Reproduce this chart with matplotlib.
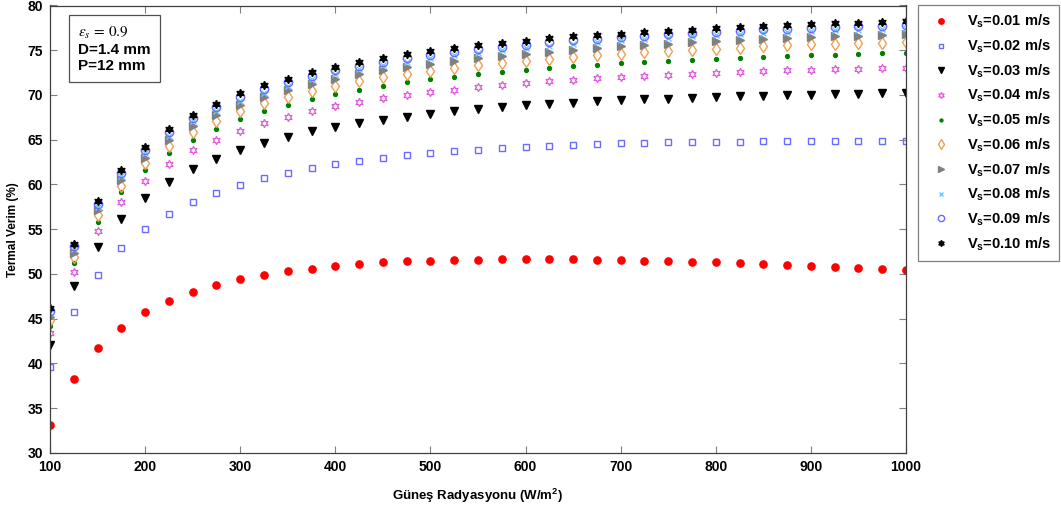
import matplotlib
matplotlib.use("Agg")
import matplotlib.pyplot as plt

plt.rcParams['font.family'] = ['Liberation Sans', 'DejaVu Sans']
plt.rcParams['mathtext.fontset'] = 'custom'
plt.rcParams['mathtext.rm'] = 'Liberation Sans:bold'
plt.rcParams['mathtext.bf'] = 'Liberation Sans:bold'
plt.rcParams['mathtext.it'] = 'Liberation Sans:bold'

# solar radiation (W/m2)
radiation = list(range(100, 1001, 25))

# thermal efficiency (%) for each air velocity
v01 = [33.1, 38.3, 41.7, 44.0, 45.7, 47.0, 48.0, 48.8, 49.4, 49.9, 50.3, 50.6, 50.9, 51.1, 51.3, 51.5, 51.5, 51.55, 51.6,
       51.65, 51.65, 51.65, 51.65, 51.6, 51.55, 51.5, 51.45, 51.35, 51.3, 51.2, 51.1, 51.0, 50.9, 50.8, 50.7, 50.6, 50.5]
v02 = [39.65, 45.8, 49.9, 52.85, 55.0, 56.7, 58.0, 59.05, 59.94, 60.68, 61.24, 61.8, 62.25, 62.58, 62.96, 63.25, 63.48,
       63.7, 63.9, 64.04, 64.2, 64.3, 64.45, 64.53, 64.6, 64.63, 64.7, 64.72, 64.75, 64.8, 64.85, 64.86, 64.86, 64.86,
       64.86, 64.85, 64.84]
v03 = [42.08, 48.68, 53.0, 56.14, 58.49, 60.28, 61.73, 62.9, 63.9, 64.67, 65.35, 65.97, 66.45, 66.84, 67.25, 67.58,
       67.88, 68.18, 68.4, 68.62, 68.85, 69.0, 69.15, 69.3, 69.45, 69.52, 69.6, 69.7, 69.8, 69.86, 69.93, 70.0, 70.04,
       70.1, 70.15, 70.2, 70.23]
v04 = [43.45, 50.24, 54.75, 58.0, 60.42, 62.33, 63.82, 64.98, 66.01, 66.84, 67.58, 68.18, 68.74, 69.22, 69.63, 70.0,
       70.3, 70.6, 70.9, 71.13, 71.31, 71.54, 71.69, 71.87, 72.02, 72.17, 72.28, 72.39, 72.47, 72.58, 72.65, 72.77,
       72.84, 72.92, 72.95, 73.03, 73.07]
v05 = [44.24, 51.22, 55.8, 59.13, 61.58, 63.52, 65.0, 66.24, 67.28, 68.18, 68.93, 69.56, 70.15, 70.6, 71.0, 71.43,
       71.77, 72.06, 72.36, 72.58, 72.8, 73.03, 73.21, 73.4, 73.57, 73.7, 73.83, 73.96, 74.07, 74.18, 74.3, 74.37,
       74.44, 74.52, 74.6, 74.66, 74.74]
v06 = [44.88, 51.9, 56.54, 59.86, 62.4, 64.34, 65.9, 67.13, 68.18, 69.07, 69.82, 70.45, 71.05, 71.54, 71.98, 72.39,
       72.73, 73.03, 73.36, 73.58, 73.85, 74.07, 74.26, 74.44, 74.63, 74.78, 74.93, 75.06, 75.18, 75.3, 75.45, 75.58,
       75.66, 75.75, 75.8, 75.84, 75.9]
v07 = [45.25, 52.4, 57.1, 60.5, 63.0, 64.93, 66.5, 67.77, 68.85, 69.74, 70.53, 71.2, 71.8, 72.32, 72.77, 73.14, 73.47,
       73.81, 74.11, 74.37, 74.59, 74.85, 75.04, 75.22, 75.43, 75.6, 75.75, 75.88, 76.0, 76.1, 76.27, 76.35, 76.46,
       76.57, 76.64, 76.72, 76.8]
v08 = [45.6, 52.8, 57.5, 60.95, 63.5, 65.45, 67.05, 68.25, 69.35, 70.25, 71.0, 71.75, 72.35, 72.9, 73.35, 73.72, 74.08,
       74.42, 74.72, 75.02, 75.25, 75.5, 75.72, 75.92, 76.1, 76.26, 76.42, 76.56, 76.68, 76.8, 76.93, 77.04, 77.14,
       77.22, 77.3, 77.37, 77.44]
v09 = [45.9, 53.1, 57.85, 61.3, 63.85, 65.83, 67.42, 68.63, 69.74, 70.66, 71.4, 72.13, 72.75, 73.29, 73.74, 74.11,
       74.48, 74.81, 75.11, 75.41, 75.63, 75.9, 76.1, 76.3, 76.5, 76.64, 76.8, 76.95, 77.06, 77.2, 77.32, 77.43, 77.54,
       77.6, 77.69, 77.76, 77.84]
v10 = [46.2, 53.4, 58.2, 61.63, 64.2, 66.2, 67.77, 69.0, 70.2, 71.09, 71.84, 72.55, 73.15, 73.7, 74.14, 74.56, 74.89,
       75.22, 75.56, 75.82, 76.08, 76.35, 76.55, 76.72, 76.87, 77.0, 77.17, 77.3, 77.45, 77.6, 77.76, 77.84, 77.9,
       77.99, 78.06, 78.13, 78.25]

velocities = ['0.01', '0.02', '0.03', '0.04', '0.05', '0.06', '0.07', '0.08', '0.09', '0.10']
series = [v01, v02, v03, v04, v05, v06, v07, v08, v09, v10]

hexagram = (6, 1, 0)
styles = [
    dict(marker='o', color='#ff0000', ms=5.2),
    dict(marker='s', mfc='none', mec='#6b6bff', ms=4.8, mew=1.0),
    dict(marker='v', color='#000000', ms=6),
    dict(marker=hexagram, mfc='none', mec='#e05ae0', ms=6, mew=0.9),
    dict(marker='o', color='#008000', ms=2.8),
    dict(marker='d', mfc='none', mec='#f0a050', ms=6.5, mew=1.0),
    dict(marker='>', color='#808080', ms=6),
    dict(marker='x', color='#66ccff', ms=4.5, mew=1.0),
    dict(marker='o', mfc='none', mec='#6b6bff', ms=6, mew=1.0),
    dict(marker=hexagram, color='#000000', ms=6),
]

fig = plt.figure(figsize=(10.61, 5.12), dpi=100)
ax = fig.add_axes([50 / 1061, 1 - 453 / 512, 856 / 1061, 447.5 / 512])

for v, y, st in zip(velocities, series, styles):
    ax.plot(radiation, y, linestyle='none', label='V$_\\mathbf{s}$=' + v + ' m/s', **st)

ax.set_xlim(100, 1000)
ax.set_ylim(30, 80)
ax.set_xticks(range(100, 1001, 100))
ax.set_yticks(range(30, 81, 5))
ax.tick_params(direction='in', top=True, right=True, length=5, width=0.8, color='#808080',
               labelsize=10, pad=5)
for lab in ax.get_xticklabels() + ax.get_yticklabels():
    lab.set_fontweight('bold')
for sp in ax.spines.values():
    sp.set_color('#404040')
    sp.set_linewidth(0.9)

ax.set_xlabel('Güneş Radyasyonu (W/m$^2$)', fontsize=9.5, fontweight='bold', labelpad=9)
ax.set_ylabel('Termal Verim (%)', fontsize=8.5, fontweight='bold', labelpad=6)

# parameter box in the upper left corner
ax.text(0.033, 0.956, '$\\varepsilon_s\\,=\\,0.9$\nD=1.4 mm\nP=12 mm',
        transform=ax.transAxes, ha='left', va='top', fontsize=11, fontweight='bold',
        math_fontfamily='stix', linespacing=1.15,
        bbox=dict(boxstyle='square,pad=0.6', fc='white', ec='#505050', lw=0.9))

leg = fig.legend(loc='upper left', bbox_to_anchor=(918 / 1061, 1 - 5 / 512), borderaxespad=0,
                 fancybox=False, edgecolor='#808080', fontsize=10.5, labelspacing=0.5,
                 handletextpad=0.8, borderpad=0.55, handlelength=2.0, framealpha=1, markerscale=0.75)
leg.get_frame().set_linewidth(0.9)
for t in leg.get_texts():
    t.set_fontweight('bold')

fig.savefig('out.png', dpi=100)
